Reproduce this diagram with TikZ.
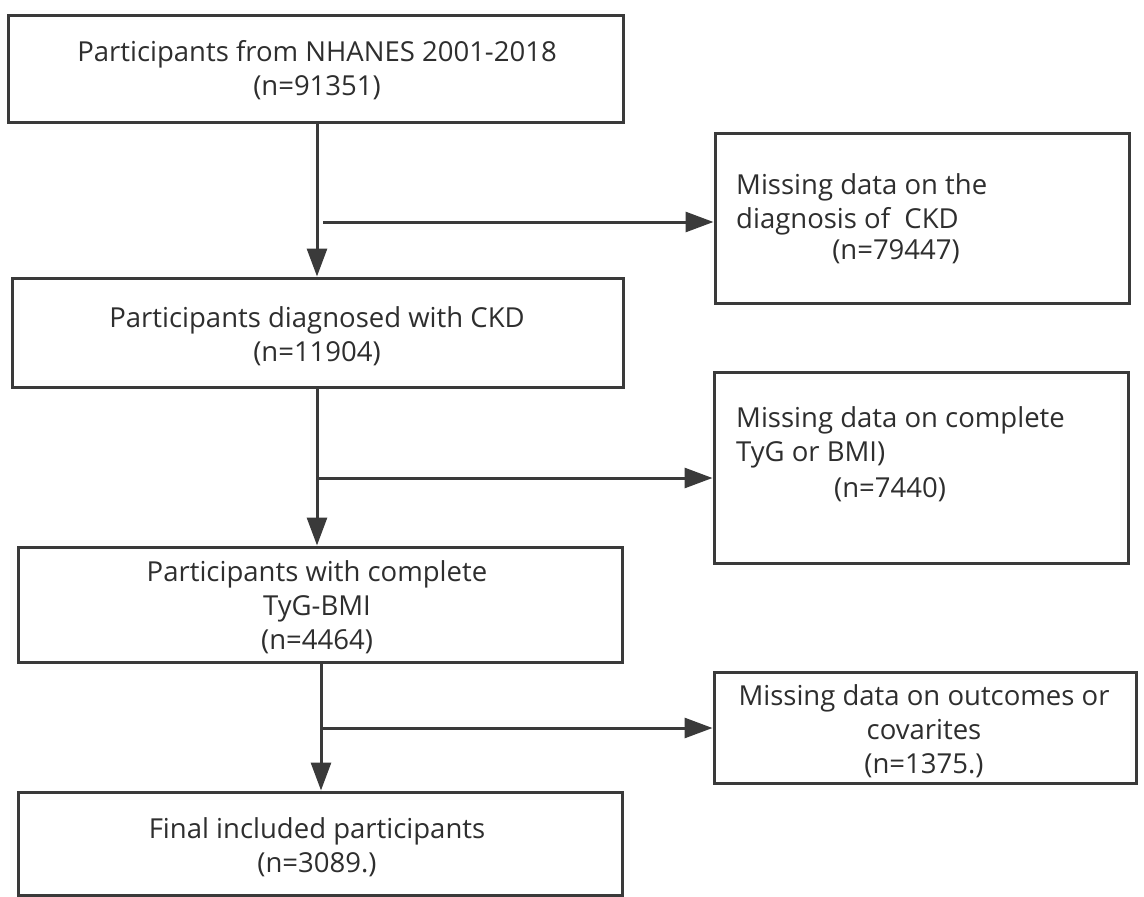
\documentclass[tikz,border=0pt]{standalone}
\usepackage{fontspec}
\setmainfont{Open Sans}
\usetikzlibrary{arrows.meta}
\definecolor{ink}{HTML}{2E2E2E}
\definecolor{edge}{HTML}{3A3A3A}
\tikzset{
  box/.style={draw=edge, line width=3pt, fill=white, inner sep=0pt},
  txt/.style={text=ink, font=\fontsize{27.5}{34}\selectfont, inner sep=0pt, align=center},
  ltxt/.style={text=ink, font=\fontsize{27.5}{34}\selectfont, inner sep=0pt, align=left, anchor=west},
  arr/.style={draw=edge, line width=3pt, -{Triangle[length=28pt,width=20pt]}},
}
\begin{document}
\begin{tikzpicture}[x=1pt,y=-1pt]
\useasboundingbox (0,0) rectangle (1144,897);
\fill[white] (0,0) rectangle (1144,897);
\clip (0,0) rectangle (1144,897);
% left boxes
\node[box, minimum width=615pt, minimum height=107pt] (b1) at (315.5,68.5) {};
\node[box, minimum width=611pt, minimum height=109pt] (b2) at (317.5,332.5) {};
\node[box, minimum width=604pt, minimum height=115pt] (b3) at (320,604.5) {};
\node[box, minimum width=604pt, minimum height=103pt] (b4) at (320,843.5) {};
% right boxes
\node[box, minimum width=414pt, minimum height=170pt] (r1) at (922,218) {};
\node[box, minimum width=414pt, minimum height=191pt] (r2) at (921,467.5) {};
\node[box, minimum width=422pt, minimum height=111pt] (r3) at (925,727.5) {};
% texts
\node[txt] (t1) at (317,70) {Participants from NHANES 2001-2018\\(n=91351)};
\node[txt] (t2) at (317,336) {Participants diagnosed with CKD\\(n=11904)};
\node[txt] (t3) at (317,607) {Participants with complete\\TyG-BMI\\(n=4464)};
\node[txt] (t4) at (317,847) {Final included participants\\(n=3089.)};
\node[ltxt] (u1) at (736,204) {Missing data on the\\diagnosis of~ CKD};
\node[txt] (u1n) at (896,252) {(n=79447)};
\node[ltxt] (u2) at (736,437) {Missing data on complete\\TyG or BMI)};
\node[txt] (u2n) at (890,490) {(n=7440)};
\node[txt] (u3) at (924,731) {Missing data on outcomes or\\covarites\\(n=1375.)};
% vertical connectors
\coordinate (v1) at (317,0);
\coordinate (v3) at (321,0);
\draw[arr] (v1 |- b1.south) -- (v1 |- b2.north);
\draw[arr] (v1 |- b2.south) -- (v1 |- b3.north);
\draw[arr] (v3 |- b3.south) -- (v3 |- b4.north);
% horizontal connectors
\coordinate (j1) at (323,222);
\coordinate (j2) at (317,478);
\coordinate (j3) at (321,728);
\draw[arr] (j1) -- (j1 -| r1.west);
\draw[arr] (j2) -- (j2 -| r2.west);
\draw[arr] (j3) -- (j3 -| r3.west);
\end{tikzpicture}
\end{document}
